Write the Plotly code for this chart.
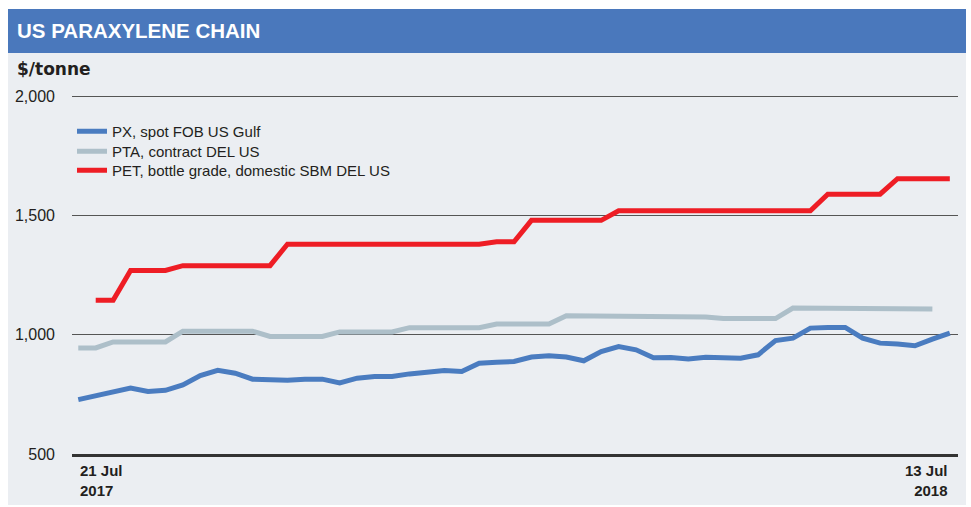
import pandas as pd
import plotly.graph_objects as go

# Weekly assessment dates (no assessment in the Christmas week)
weeks = [d.strftime("%Y-%m-%d")
         for d in pd.date_range("2017-07-21", "2018-07-13", freq="7D")
         if d != pd.Timestamp("2017-12-29")]

# $/tonne
px_spot = [728, 744, 760, 777, 762, 767, 790, 829, 851, 839,
           814, 809, 809, 814, 814, 798, 818, 825, 825, 836,
           843, 850, 846, 881, 885, 888, 907, 912, 907, 891,
           930, 951, 937, 904, 905, 899, 906, 902, 902, 916,
           976, 986, 1028, 1031, 1031, 986, 965, 961, 954, 982,
           1007]
pta_contract = ([945] * 2 + [970] * 4 + [1015] * 5 + [993] * 4 + [1012] * 4 +
                [1030] * 5 + [1045] * 4 + [1080] * 4 + [1075] * 5 + [1068] * 4 +
                [1112] * 4 + [1108] * 5 + [None])
pet_bottle = ([None] + [1145] * 2 + [1270] * 3 + [1290] * 6 + [1380] * 12 +
              [1390] * 2 + [1480] * 5 + [1520] * 12 + [1590] * 4 + [1655] * 4)

series_names = ["PX, spot FOB US Gulf",
                "PTA, contract DEL US",
                "PET, bottle grade, domestic SBM DEL US"]
series_values = [px_spot, pta_contract, pet_bottle]
series_colors = ["#4a7cc0", "#adbfc9", "#ee1d25"]

y_ticks = [500, 1000, 1500, 2000]
y_tick_text = ["500", "1,000", "1,500", "2,000"]

FONT = "Liberation Sans, Arial, sans-serif"
INK = "#231f20"

W, H = 971, 507
ML, MR, MT, MB = 72, 13, 94, 53
pw, ph = W - ML - MR, H - MT - MB


def px_x(p):
    return (p - ML) / pw


def px_y(p):
    return (H - MB - p) / ph


# one legend box per series so the rows sit tightly stacked
legend_ids = ["legend", "legend2", "legend3"]
legend_tops = [115, 135, 154]

fig = go.Figure()
for name, vals, col, lid in zip(series_names, series_values, series_colors, legend_ids):
    fig.add_trace(go.Scatter(
        x=weeks, y=vals, name=name, mode="lines",
        line=dict(color=col, width=5),
        connectgaps=False, legend=lid,
    ))

legend_style = {
    lid: dict(x=px_x(72), y=px_y(top), xanchor="left", yanchor="top",
              bgcolor="rgba(0,0,0,0)", font=dict(size=15, color=INK, family=FONT),
              itemwidth=30)
    for lid, top in zip(legend_ids, legend_tops)
}

fig.update_layout(
    width=W, height=H,
    margin=dict(l=ML, r=MR, t=MT, b=MB, pad=0),
    paper_bgcolor="white",
    plot_bgcolor="rgba(0,0,0,0)",
    font=dict(family=FONT, color=INK, size=15),
    showlegend=True,
    **legend_style,
    xaxis=dict(
        type="category", range=[-0.36, len(weeks) - 1 + 0.47],
        showgrid=False, showticklabels=False, ticks="",
        showline=True, linecolor="#333333", linewidth=2.5,
        zeroline=False, fixedrange=True,
    ),
    yaxis=dict(
        range=[500, 2010], tickvals=y_ticks, ticktext=y_tick_text,
        showgrid=True, gridcolor="#555555", gridwidth=1.4,
        ticks="", showline=False, zeroline=False,
        tickfont=dict(size=16, color=INK), ticklabelstandoff=16,
        fixedrange=True,
    ),
    shapes=[
        # grey panel
        dict(type="rect", xref="paper", yref="paper", layer="below",
             x0=px_x(8), x1=px_x(966), y0=px_y(505), y1=px_y(53),
             fillcolor="#ebeef2", line=dict(width=0)),
        # title bar
        dict(type="rect", xref="paper", yref="paper", layer="below",
             x0=px_x(8), x1=px_x(966), y0=px_y(53), y1=px_y(9),
             fillcolor="#4a78bc", line=dict(width=0)),
    ],
    annotations=[
        dict(text="<b>US PARAXYLENE CHAIN</b>", xref="paper", yref="paper",
             x=px_x(15), y=px_y(31), xanchor="left", yanchor="middle",
             showarrow=False, font=dict(size=20.5, color="white", family=FONT)),
        dict(text="<b>$/tonne</b>", xref="paper", yref="paper",
             x=px_x(15), y=px_y(69), xanchor="left", yanchor="middle",
             showarrow=False, font=dict(size=17, color=INK,
                                        family="DejaVu Sans, " + FONT)),
        dict(text="<b>21 Jul<br>2017</b>", xref="x", yref="paper",
             x=weeks[0], y=px_y(460), xanchor="left", yanchor="top",
             align="left", showarrow=False, font=dict(size=15, color=INK)),
        dict(text="<b>13 Jul<br>2018</b>", xref="x", yref="paper",
             x=weeks[-1], y=px_y(460), xanchor="right", yanchor="top",
             align="right", showarrow=False, font=dict(size=15, color=INK)),
    ],
)

fig.write_html("out.html")
